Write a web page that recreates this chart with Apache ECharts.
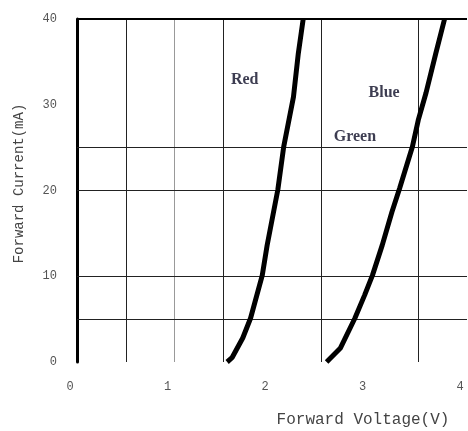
<!DOCTYPE html>
<html>
<head>
<meta charset="utf-8">
<script src="https://cdn.jsdelivr.net/npm/echarts@6/dist/echarts.min.js"></script>
<style>html,body{margin:0;padding:0;background:#fff}#c{width:468px;height:431px}</style>
</head>
<body>
<div id="c"></div>
<script>
// Forward voltage (V) vs forward current (mA)
const redV  = [1.54, 1.59, 1.70, 1.78, 1.90, 1.95, 2.06, 2.12, 2.22, 2.27, 2.32];
const redI  = [0, 0.5, 2.8, 5.1, 10.1, 13.6, 20.1, 25.1, 30.9, 36.0, 40];
const blueV = [2.56, 2.70, 2.85, 2.95, 3.03, 3.13, 3.23, 3.31, 3.44, 3.50, 3.58, 3.68, 3.77];
const blueI = [0, 1.6, 5.1, 7.8, 10.1, 13.6, 17.5, 20.3, 25.1, 28.2, 31.4, 36.0, 40];
const xTicks = [0, 1, 2, 3, 4];
const yTicks = [0, 10, 20, 30, 40];
const xGridDark = [0.5, 1.5, 2.5, 3.5];
const xGridLight = [1];
const yGrid = [5, 10, 20, 25];
const curveLabels = ['Red', 'Blue', 'Green'];
const curveLabelV = [1.72, 3.15, 2.85];
const curveLabelI = [32.9, 31.4, 26.2];

const chart = echarts.init(document.getElementById('c'));
const pairs = (xs, ys) => xs.map((x, k) => [x, ys[k]]);
const monoFont = '"Liberation Mono", "DejaVu Sans Mono", monospace';

chart.setOption({
  animation: false,
  backgroundColor: '#fff',
  grid: { left: 77, right: 1, top: 19, bottom: 69, outerBoundsMode: 'none', containLabel: false },
  xAxis: {
    type: 'value', min: 0, max: 4, interval: 1,
    name: 'Forward Voltage(V)', nameLocation: 'middle', nameGap: 50,
    nameTextStyle: { fontFamily: monoFont, fontSize: 16, color: '#444', padding: [0, 0, 0, 182] },
    axisLine: { show: false }, axisTick: { show: false }, splitLine: { show: false },
    axisLabel: { margin: 19, fontFamily: monoFont, fontSize: 12, color: '#555', padding: [0, 14, 0, 0],
      formatter: v => xTicks.includes(v) ? String(v) : '' }
  },
  yAxis: {
    type: 'value', min: 0, max: 40, interval: 10,
    name: 'Forward Current(mA)', nameLocation: 'middle', nameGap: 51,
    nameTextStyle: { fontFamily: monoFont, fontSize: 14, color: '#444', padding: [0, 0, 0, 14] },
    axisLine: { show: true, lineStyle: { color: '#000', width: 3 } },
    axisTick: { show: false }, splitLine: { show: false },
    axisLabel: { margin: 20, fontFamily: monoFont, fontSize: 12, color: '#555',
      formatter: v => yTicks.includes(v) ? String(v) : '' }
  },
  series: [
    {
      type: 'line', name: 'grid', data: [], silent: true,
      markLine: {
        silent: true, symbol: 'none', label: { show: false },
        lineStyle: { color: '#222', width: 1, type: 'solid' },
        data: [
          ...xGridDark.map(v => ({ xAxis: v })),
          ...xGridLight.map(v => ({ xAxis: v, lineStyle: { color: '#999', width: 1, type: 'solid' } })),
          ...yGrid.map(v => ({ yAxis: v })),
          { yAxis: 40, lineStyle: { color: '#000', width: 2, type: 'solid' } }
        ]
      }
    },
    {
      type: 'line', name: 'Red', data: pairs(redV, redI), symbol: 'none',
      lineStyle: { color: '#000', width: 5 }, z: 5
    },
    {
      type: 'line', name: 'Blue', data: pairs(blueV, blueI), symbol: 'none',
      lineStyle: { color: '#000', width: 5 }, z: 5
    },
    {
      type: 'scatter', name: 'labels', symbolSize: 0, silent: true,
      data: curveLabels.map((n, k) => ({ value: [curveLabelV[k], curveLabelI[k]], name: n })),
      label: {
        show: true, position: 'inside', formatter: p => p.name,
        fontFamily: '"Liberation Serif", "DejaVu Serif", serif', fontWeight: 'bold',
        fontSize: 16, color: '#0d0d26'
      }
    }
  ]
});
</script>
</body>
</html>
